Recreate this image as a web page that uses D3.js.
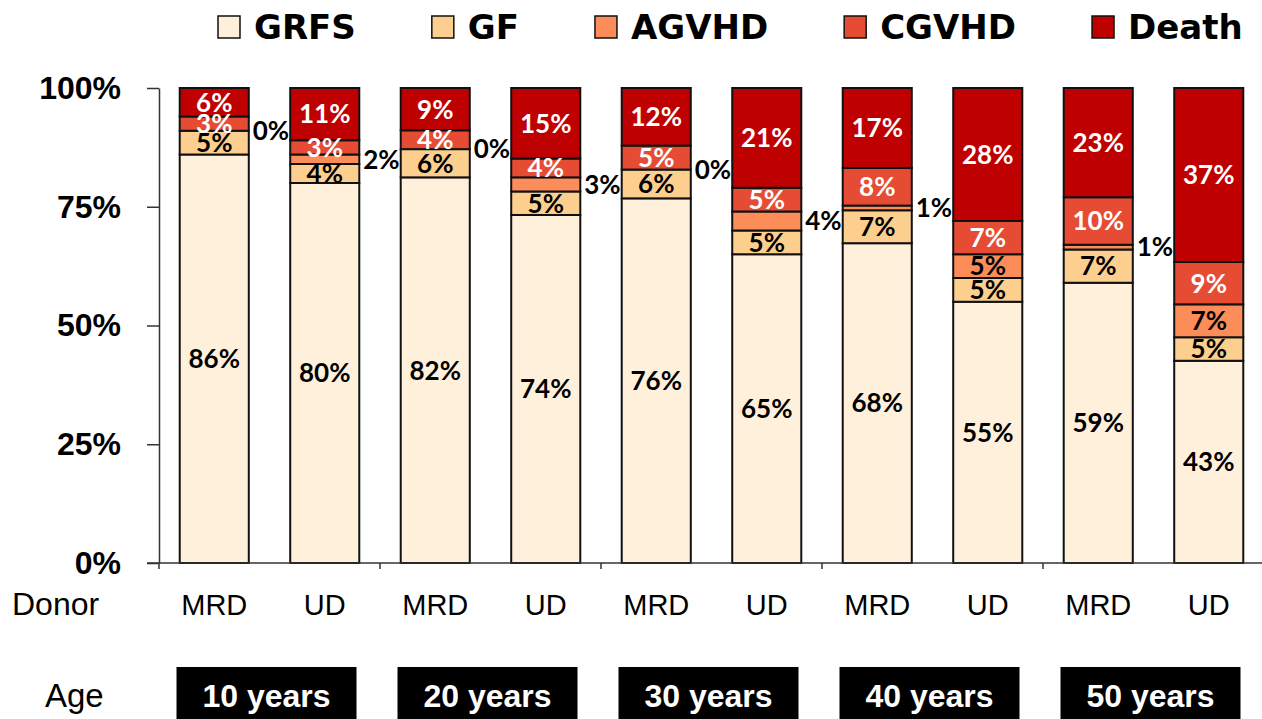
<!DOCTYPE html>
<html>
<head>
<meta charset="utf-8">
<script src="https://cdn.jsdelivr.net/npm/d3@7"></script>
<style>
  body { margin: 0; background: #fff; }
  svg { display: block; }
</style>
</head>
<body>
<div id="chart"></div>
<script>
// Outcome categories, bottom to top of each stack
const outcomes = ["GRFS", "GF", "AGVHD", "CGVHD", "Death"];
const colors = ["#FEF0DA", "#FDCF8E", "#FC8D59", "#E64B33", "#BF0000"];
const labelColors = ["#000", "#000", "#000", "#fff", "#fff"];

// Bars: donor type within age group
const ages = ["10 years", "20 years", "30 years", "40 years", "50 years"];
const donors = ["MRD", "UD"];

// Percent values per bar, in the order of outcomes
const grfs  = [86, 80, 82, 74, 76, 65, 68, 55, 59, 43];
const gf    = [5, 4, 6, 5, 6, 5, 7, 5, 7, 5];
const agvhd = [0, 2, 0, 3, 0, 4, 1, 5, 1, 7];
const cgvhd = [3, 3, 4, 4, 5, 5, 8, 7, 10, 9];
const death = [6, 11, 9, 15, 12, 21, 17, 28, 23, 37];

const yTicks = [0, 0.25, 0.5, 0.75, 1];

const bars = [];
ages.forEach((age, i) => {
    donors.forEach((donor, j) => {
        const k = i * 2 + j;
        bars.push({
            id: age + "|" + donor, age: age, donor: donor,
            GRFS: grfs[k], GF: gf[k], AGVHD: agvhd[k], CGVHD: cgvhd[k], Death: death[k]
        });
    });
});

const width = 1262, height = 719;
const margin = {left: 159, right: -2, top: 88, bottom: 156};

const svg = d3.select("#chart").append("svg")
    .attr("width", width)
    .attr("height", height);

const x = d3.scaleBand()
    .domain(bars.map(d => d.id))
    .range([margin.left, width - margin.right])
    .paddingInner(0.375)
    .paddingOuter(0.1875);

const xGroup = d3.scaleBand()
    .domain(ages)
    .range([margin.left, width - margin.right]);

const y = d3.scaleLinear()
    .domain([0, 1])
    .range([height - margin.bottom, margin.top]);

// rows don't always sum to exactly 100 because of rounding, so normalise
const series = d3.stack()
    .keys(outcomes)
    .offset(d3.stackOffsetExpand)(bars);

// Bars
const layer = svg.append("g")
    .selectAll("g")
    .data(series)
    .join("g")
    .attr("fill", (d, i) => colors[i]);

layer.selectAll("rect")
    .data(d => d)
    .join("rect")
    .attr("x", d => x(d.data.id))
    .attr("y", d => y(d[1]))
    .attr("width", x.bandwidth())
    .attr("height", d => y(d[0]) - y(d[1]))
    .attr("stroke", "#111")
    .attr("stroke-width", 2);

// Segment labels
const labelFont = "Lato, 'Open Sans', sans-serif";
series.forEach((s, i) => {
    svg.append("g")
        .selectAll("text")
        .data(s)
        .join("text")
        .each(function(d) {
            const v = d.data[s.key];
            const outside = s.key === "AGVHD" && v < 5;
            const t = d3.select(this);
            t.attr("y", y((d[0] + d[1]) / 2))
                .attr("dy", "0.36em")
                .attr("font-family", labelFont)
                .attr("font-weight", 700)
                .attr("font-size", 26)
                .text(v + "%");
            if (outside) {
                t.attr("x", x(d.data.id) + x.bandwidth() + 4)
                    .attr("text-anchor", "start")
                    .attr("fill", "#000");
            } else {
                t.attr("x", x(d.data.id) + x.bandwidth() / 2)
                    .attr("text-anchor", "middle")
                    .attr("fill", labelColors[i]);
            }
        });
});

// Y axis
const yAxis = svg.append("g")
    .attr("transform", `translate(${margin.left},0)`)
    .call(d3.axisLeft(y).tickValues(yTicks).tickFormat(d3.format(".0%"))
        .tickSize(12).tickSizeOuter(0).tickPadding(26));
yAxis.select(".domain").attr("stroke", "#333").attr("stroke-width", 1.5);
yAxis.selectAll(".tick line").attr("stroke", "#333").attr("stroke-width", 1.5);
yAxis.selectAll(".tick text")
    .attr("font-family", "'Liberation Sans', Arial, sans-serif")
    .attr("font-weight", 700)
    .attr("font-size", 32)
    .attr("fill", "#000");

// X axis line with ticks at group boundaries
const xAxisY = y(0);
svg.append("line")
    .attr("x1", margin.left - 12).attr("x2", width)
    .attr("y1", xAxisY).attr("y2", xAxisY)
    .attr("stroke", "#333").attr("stroke-width", 1.5);
svg.append("g")
    .selectAll("line")
    .data(ages)
    .join("line")
    .attr("x1", d => xGroup(d)).attr("x2", d => xGroup(d))
    .attr("y1", xAxisY).attr("y2", xAxisY + 6)
    .attr("stroke", "#333").attr("stroke-width", 1.5);

// Donor row
const rowFont = "'Liberation Sans', Arial, sans-serif";
svg.append("text")
    .attr("x", 12).attr("y", 615)
    .attr("font-family", rowFont).attr("font-size", 32)
    .text("Donor");
svg.append("g")
    .selectAll("text")
    .data(bars)
    .join("text")
    .attr("x", d => x(d.id) + x.bandwidth() / 2)
    .attr("y", 615)
    .attr("text-anchor", "middle")
    .attr("font-family", rowFont).attr("font-size", 29)
    .text(d => d.donor);

// Age row
svg.append("text")
    .attr("x", 45).attr("y", 707)
    .attr("font-family", rowFont).attr("font-size", 33)
    .text("Age");
const ageBox = svg.append("g")
    .selectAll("g")
    .data(ages)
    .join("g")
    .attr("transform", d => `translate(${xGroup(d) + xGroup.bandwidth() / 2 - 3},0)`);
ageBox.append("rect")
    .attr("x", -90).attr("y", 667)
    .attr("width", 180).attr("height", 70)
    .attr("fill", "#000");
ageBox.append("text")
    .attr("y", 707)
    .attr("text-anchor", "middle")
    .attr("fill", "#fff")
    .attr("font-family", rowFont).attr("font-weight", 700).attr("font-size", 32)
    .text(d => d);

// Legend
const legend = svg.append("g");
let lx = 218;
outcomes.forEach((name, i) => {
    const item = legend.append("g").attr("transform", `translate(${lx},0)`);
    item.append("rect")
        .attr("x", 0).attr("y", 16)
        .attr("width", 22).attr("height", 22)
        .attr("fill", colors[i])
        .attr("stroke", "#111").attr("stroke-width", 1.5);
    const t = item.append("text")
        .attr("x", 36).attr("y", 27)
        .attr("dy", "0.36em")
        .attr("font-family", "'DejaVu Sans', sans-serif")
        .attr("font-weight", 700)
        .attr("font-size", 34)
        .text(name);
    lx += 36 + t.node().getComputedTextLength() + 76;
});
</script>
</body>
</html>
